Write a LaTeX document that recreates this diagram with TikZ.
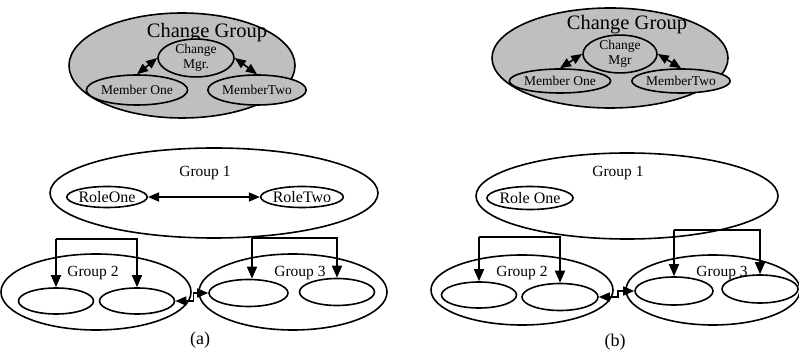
\documentclass[tikz,border=0pt]{standalone}
\usepackage{fontspec}
\setmainfont{Liberation Serif}
\usetikzlibrary{shapes.geometric,arrows.meta,positioning}

\tikzset{
  grp/.style={ellipse,draw,line width=1.6pt,inner sep=0pt},
  role/.style={ellipse,draw,line width=1.6pt,inner sep=0pt,font=\fontsize{16}{18}\selectfont},
  member/.style={ellipse,draw,line width=1.6pt,inner sep=0pt,fill=gray!50,align=center,font=\fontsize{13.5}{14.5}\selectfont},
  lbl/.style={inner sep=0pt,font=\fontsize{15.5}{17}\selectfont},
  arr/.style={-{Triangle[length=12pt,width=10pt]},line width=1.6pt},
  dbl/.style={{Triangle[length=11pt,width=9pt]}-{Triangle[length=11pt,width=9pt]},line width=1.6pt},
}

\begin{document}
\begin{tikzpicture}[x=1pt,y=1pt]
\useasboundingbox (0,0) rectangle (799,353);

% (a) change group
\node[grp,fill=gray!50,minimum width=226pt,minimum height=105pt] (cgA) at (182,287.5) {};
\node[lbl,font=\fontsize{20.5}{22}\selectfont] (cgtA) at (207,320) {Change Group};
\node[member,minimum width=76pt,minimum height=27pt] (mgrA) at (196,295) {Change\\Mgr.};
\node[member,minimum width=77pt,minimum height=30pt] (moA) at (137,263) {Member One};
\node[member,minimum width=79pt,minimum height=30pt] (mtA) at (257,263) {MemberTwo};
\draw[dbl] (moA.north) -- (mgrA.west);
\draw[dbl] (mgrA.east) -- (mtA.north);

% (b) change group
\node[grp,fill=gray!50,minimum width=236pt,minimum height=100pt] (cgB) at (610,295) {};
\node[lbl,font=\fontsize{20.5}{22}\selectfont] (cgtB) at (627,328) {Change Group};
\node[member,minimum width=74pt,minimum height=28pt] (mgrB) at (620,299) {Change\\Mgr};
\node[member,minimum width=76pt,minimum height=24pt] (moB) at (560,272) {Member One};
\node[member,minimum width=78pt,minimum height=24pt] (mtB) at (681,272) {MemberTwo};
\draw[dbl] (moB.north) -- (mgrB.west);
\draw[dbl] (mgrB.east) -- (mtB.north);

% (a) groups
\node[grp,minimum width=328pt,minimum height=90pt] (g1A) at (214,160) {};
\node[lbl] (g1tA) at (205,180) {Group 1};
\node[role,minimum width=77pt,minimum height=21pt] (r1A) at (107,156) {RoleOne};
\node[role,minimum width=73pt,minimum height=21pt] (r2A) at (302,156) {RoleTwo};
\draw[dbl] (r1A) -- (r2A);

\node[grp,minimum width=190pt,minimum height=76pt] (g2A) at (96,61) {};
\node[lbl] (g2tA) at (93,80) {Group 2};
\node[grp,minimum width=75pt,minimum height=26pt] (i1A) at (56,52) {};
\node[grp,minimum width=75pt,minimum height=26pt] (i2A) at (137,52) {};

\node[grp,minimum width=188pt,minimum height=76pt] (g3A) at (293,61) {};
\node[lbl] (g3tA) at (300,80) {Group 3};
\node[grp,minimum width=79pt,minimum height=27pt] (i3A) at (248.5,60) {};
\node[grp,minimum width=75pt,minimum height=27pt] (i4A) at (337,61) {};

% forks from group 1
\coordinate (faA) at (i1A.north |- 0,114);
\coordinate (fbA) at (i2A.north |- 0,114);
\draw[arr] (faA) -- (i1A);
\draw[arr] (faA) -- (fbA) -- (i2A);
\coordinate (fcA) at (252,115);
\coordinate (fdA) at (i4A.north |- 0,115);
\draw[arr] (fcA) -- (fcA |- i3A.north);
\draw[arr] (fcA) -- (fdA) -- (i4A);
\draw[dbl] (i2A.east) -- ++(18,0) |- (i3A.west);

\node[lbl,font=\fontsize{18}{20}\selectfont] (capA) at (200,13) {(a)};

% (b) groups
\node[grp,minimum width=302pt,minimum height=86pt] (g1B) at (627,157) {};
\node[lbl] (g1tB) at (618,180) {Group 1};
\node[role,minimum width=76pt,minimum height=23pt] (r1B) at (530,155) {Role One};

\node[grp,minimum width=182pt,minimum height=70pt] (g2B) at (522,63) {};
\node[lbl] (g2tB) at (522,80) {Group 2};
\node[grp,minimum width=75pt,minimum height=26pt] (i1B) at (479,58) {};
\node[grp,minimum width=76pt,minimum height=27pt] (i2B) at (560,56) {};

\node[grp,minimum width=174pt,minimum height=70pt] (g3B) at (713,63) {};
\node[lbl] (g3tB) at (722,80) {Group 3};
\node[grp,minimum width=78pt,minimum height=28pt] (i3B) at (674,62) {};
\node[grp,minimum width=76pt,minimum height=28pt] (i4B) at (760,64) {};

% forks from group 1
\coordinate (faB) at (i1B.north |- 0,116);
\coordinate (fbB) at (i2B.north |- 0,116);
\draw[arr] (faB) -- (i1B);
\draw[arr] (faB) -- (fbB) -- (i2B);
\coordinate (fcB) at (i3B.north |- 0,123);
\coordinate (fdB) at (i4B.north |- 0,123);
\draw[arr] (fcB) -- (i3B);
\draw[arr] (fcB) -- (fdB) -- (i4B);
\draw[dbl] (i2B.east) -- ++(19,0) |- (i3B.west);

\node[lbl,font=\fontsize{18}{20}\selectfont] (capB) at (615,11) {(b)};
\end{tikzpicture}
\end{document}
